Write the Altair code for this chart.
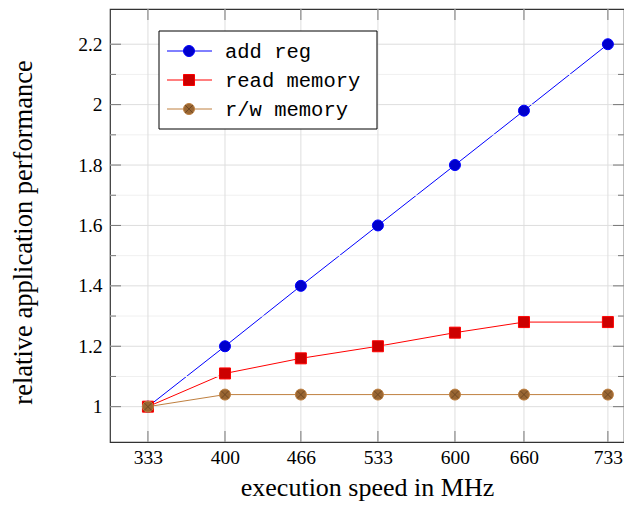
import altair as alt
import pandas as pd

# ---- data ----
x_mhz = [333, 400, 466, 533, 600, 660, 733]
series_names = ["add reg", "read memory", "r/w memory"]
add_reg = [1.0, 1.2, 1.4, 1.6, 1.8, 1.98, 2.2]
read_memory = [1.0, 1.11, 1.16, 1.2, 1.245, 1.28, 1.28]
rw_memory = [1.0, 1.04, 1.04, 1.04, 1.04, 1.04, 1.04]
y_major = [1.0, 1.2, 1.4, 1.6, 1.8, 2.0, 2.2]
y_minor = [1.1, 1.3, 1.5, 1.7, 1.9, 2.1]

line_colors = ["#0000ff", "#ff0000", "#bf8040"]
fill_colors = ["#0000cc", "#cc0000", "#996633"]
shapes = ["circle", "square", "circle"]
cross_path = "M-0.7,-0.7L0.7,0.7M-0.7,0.7L0.7,-0.7"

W, H = 514, 433
SERIF = "Liberation Serif"
MONO = "Liberation Mono"

rows = []
for name, vals in zip(series_names, [add_reg, read_memory, rw_memory]):
    for x, v in zip(x_mhz, vals):
        rows.append({"mhz": x, "perf": v, "series": name})
df = pd.DataFrame(rows)
df_major = pd.DataFrame({"v": y_major})
df_minor = pd.DataFrame({"v": y_minor})
df_x = pd.DataFrame({"x": x_mhz})
df_leg = pd.DataFrame({"series": series_names})

xscale = alt.Scale(domain=[300, 747], nice=False, zero=False)
yscale = alt.Scale(domain=[0.883, 2.3166], nice=False, zero=False)
stroke_scale = alt.Scale(domain=series_names, range=line_colors)
fill_scale = alt.Scale(domain=series_names, range=fill_colors)
shape_scale = alt.Scale(domain=series_names, range=shapes)

# main data layer (carries the axes)
lines = alt.Chart(df).mark_line(strokeWidth=1).encode(
    x=alt.X("mhz:Q", scale=xscale,
            axis=alt.Axis(values=x_mhz, title="execution speed in MHz", grid=False,
                          ticks=False, tickSize=0, domain=False, labelFont=SERIF,
                          labelFontSize=19.5, labelColor="black", labelPadding=6,
                          titleFont=SERIF, titleFontSize=26, titleFontWeight="normal",
                          titleColor="black", titleBaseline="alphabetic", titleY=53)),
    y=alt.Y("perf:Q", scale=yscale,
            axis=alt.Axis(values=y_major, format="~g", title="relative application performance",
                          grid=False, ticks=False, tickSize=0, domain=False, labelFont=SERIF,
                          labelFontSize=19.5, labelColor="black", labelPadding=8,
                          titleFont=SERIF, titleFontSize=26.5, titleFontWeight="normal",
                          titleColor="black", titleAngle=270, titleBaseline="alphabetic",
                          titleX=-79, titleY=223)),
    stroke=alt.Stroke("series:N", scale=stroke_scale, legend=None),
    detail="series:N",
)

# grid (axis left unspecified so the explicit axis of `lines` wins when merged)
grid_minor = alt.Chart(df_minor).mark_rule(color="#f0f0f0", strokeWidth=1).encode(
    y=alt.Y("v:Q", scale=yscale))
grid_major = alt.Chart(df_major).mark_rule(color="#dedede", strokeWidth=1).encode(
    y=alt.Y("v:Q", scale=yscale))
grid_x = alt.Chart(df_x).mark_rule(color="#dedede", strokeWidth=1).encode(
    x=alt.X("x:Q", scale=xscale))

TICK = "#777777"
def ytick(d, x0, x1):
    return alt.Chart(d).mark_rule(color=TICK, strokeWidth=1).encode(
        y=alt.Y("v:Q", scale=yscale), x=alt.value(x0), x2=alt.value(x1))
def xtick(y0, y1):
    return alt.Chart(df_x).mark_rule(color=TICK, strokeWidth=1).encode(
        x=alt.X("x:Q", scale=xscale), y=alt.value(y0), y2=alt.value(y1))

ticks = [
    ytick(df_major, 0, 11), ytick(df_major, W - 11, W),
    ytick(df_minor, 0, 6), ytick(df_minor, W - 6, W),
    xtick(H - 11, H), xtick(0, 11),
]

points = alt.Chart(df).mark_point(filled=True, size=121, strokeWidth=1, opacity=1).encode(
    x=alt.X("mhz:Q", scale=xscale),
    y=alt.Y("perf:Q", scale=yscale),
    shape=alt.Shape("series:N", scale=shape_scale, legend=None),
    fill=alt.Fill("series:N", scale=fill_scale, legend=None),
    stroke=alt.Stroke("series:N", scale=stroke_scale, legend=None),
)

crosses = alt.Chart(df).transform_filter(alt.datum.series == "r/w memory").mark_point(
    shape=cross_path, size=121, filled=False, stroke="#6b4520", strokeWidth=0.9, opacity=1).encode(
    x=alt.X("mhz:Q", scale=xscale),
    y=alt.Y("perf:Q", scale=yscale),
)

# legend (layout in pixels, one row per series)
LEG_X0, LEG_X1, LEG_Y0, LEG_Y1 = 49, 267, 22, 120
ROW0, ROW_STEP = 42, 29
legend_layers = [
    alt.Chart(pd.DataFrame({"a": [0]})).mark_rect(
        fill="white", stroke="black", strokeWidth=1).encode(
        x=alt.value(LEG_X0), x2=alt.value(LEG_X1), y=alt.value(LEG_Y0), y2=alt.value(LEG_Y1))
]
for i, name in enumerate(series_names):
    ry = ROW0 + ROW_STEP * i
    base = alt.Chart(df_leg).transform_filter(alt.datum.series == name)
    legend_layers.append(base.mark_rule(strokeWidth=1).encode(
        x=alt.value(57), x2=alt.value(102), y=alt.value(ry),
        stroke=alt.Stroke("series:N", scale=stroke_scale, legend=None)))
    legend_layers.append(base.mark_point(filled=True, size=121, strokeWidth=1, opacity=1).encode(
        x=alt.value(79), y=alt.value(ry),
        shape=alt.Shape("series:N", scale=shape_scale, legend=None),
        fill=alt.Fill("series:N", scale=fill_scale, legend=None),
        stroke=alt.Stroke("series:N", scale=stroke_scale, legend=None)))
    if name == "r/w memory":
        legend_layers.append(base.mark_point(
            shape=cross_path, size=121, filled=False, stroke="#6b4520", strokeWidth=0.9,
            opacity=1).encode(x=alt.value(79), y=alt.value(ry)))
    legend_layers.append(base.mark_text(
        align="left", baseline="middle", font=MONO, fontSize=20.5, color="black", dy=1).encode(
        x=alt.value(115), y=alt.value(ry), text="series:N"))

chart = alt.layer(lines, grid_minor, grid_major, grid_x, *ticks, points, crosses,
                  *legend_layers).properties(
    width=W, height=H,
    autosize=alt.AutoSizeParams(type="none"),
    padding={"left": 102, "top": 1, "right": 0, "bottom": 59},
    background="white",
).configure_view(stroke="#333333", strokeWidth=1.2)

chart.save("out.html", embed_options={"renderer": "svg", "actions": False})
